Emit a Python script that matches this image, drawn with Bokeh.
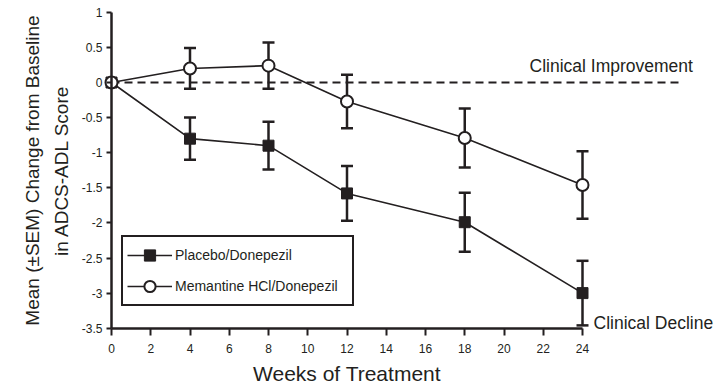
from bokeh.plotting import figure
from bokeh.models import Range1d, FixedTicker, Whisker, TeeHead, ColumnDataSource, Label
from bokeh.embed import file_html
from bokeh.resources import INLINE

weeks = [0, 4, 8, 12, 18, 24]
placebo_mean = [0.0, -0.80, -0.90, -1.58, -1.99, -3.00]
placebo_sem = [0.0, 0.30, 0.34, 0.39, 0.42, 0.46]
memantine_mean = [0.0, 0.20, 0.24, -0.27, -0.79, -1.46]
memantine_sem = [0.0, 0.29, 0.33, 0.38, 0.42, 0.48]

x_ticks = [0, 2, 4, 6, 8, 10, 12, 14, 16, 18, 20, 22, 24]
y_ticks = [1, 0.5, 0, -0.5, -1, -1.5, -2, -2.5, -3, -3.5]
y_tick_labels = ["1", "0.5", "0", "-0.5", "-1", "-1.5", "-2", "-2.5", "-3", "-3.5"]

FONT = "Liberation Sans"
INK = "#231f20"

W, H = 723, 388
PX_X = 19.625   # pixels per week
PX_Y = 70.2     # pixels per score unit
X0_PX, Y0_PX = 111, 82  # where the axes origin (0 weeks, score 0) sits

x_start = -X0_PX / PX_X
x_end = (W - X0_PX) / PX_X
y_end = Y0_PX / PX_Y
y_start = -(H - Y0_PX) / PX_Y

p = figure(width=W, height=H, output_backend="svg", toolbar_location=None,
           x_range=Range1d(x_start, x_end), y_range=Range1d(y_start, y_end),
           min_border_left=0, min_border_right=0, min_border_top=0, min_border_bottom=0)
p.outline_line_color = None
p.xgrid.visible = False
p.ygrid.visible = False

# axes
p.yaxis.fixed_location = 0
p.yaxis.bounds = (-3.5, 1)
p.yaxis.ticker = FixedTicker(ticks=y_ticks)
p.yaxis.major_label_overrides = {t: s for t, s in zip(y_ticks, y_tick_labels)}
p.yaxis.minor_tick_line_color = None
p.yaxis.major_tick_out = 5
p.yaxis.major_tick_in = 0
p.yaxis.major_label_standoff = 4
p.yaxis.axis_label = "Mean (\u00b1SEM) Change from Baseline\nin ADCS-ADL Score"
p.yaxis.axis_label_text_font = FONT
p.yaxis.axis_label_text_font_style = "normal"
p.yaxis.axis_label_text_font_size = "19px"
p.yaxis.axis_label_text_line_height = 1.35
p.yaxis.axis_label_standoff = 7

p.xaxis.fixed_location = -3.5
p.xaxis.bounds = (0, 24)
p.xaxis.ticker = FixedTicker(ticks=x_ticks)
p.xaxis.minor_tick_line_color = None
p.xaxis.major_tick_out = 7
p.xaxis.major_tick_in = 0
p.xaxis.major_label_standoff = 9
p.xaxis.axis_label = "Weeks of Treatment"
p.xaxis.axis_label_text_font = FONT
p.xaxis.axis_label_text_font_style = "normal"
p.xaxis.axis_label_text_font_size = "21px"
p.xaxis.axis_label_standoff = 5

for ax in (p.xaxis, p.yaxis):
    ax.axis_line_width = 2.5
    ax.axis_line_color = INK
    ax.major_tick_line_width = 2
    ax.major_tick_line_color = INK
    ax.major_label_text_font = FONT
    ax.major_label_text_font_size = "12px"
    ax.major_label_text_color = INK
    ax.axis_label_text_color = INK

# reference dashed line at zero
p.line(x=[0, 29], y=[0, 0], line_color=INK, line_width=2, line_dash="8 5")

src_p = ColumnDataSource(dict(x=weeks, y=placebo_mean,
                              lo=[m - s for m, s in zip(placebo_mean, placebo_sem)],
                              hi=[m + s for m, s in zip(placebo_mean, placebo_sem)]))
src_m = ColumnDataSource(dict(x=weeks, y=memantine_mean,
                              lo=[m - s for m, s in zip(memantine_mean, memantine_sem)],
                              hi=[m + s for m, s in zip(memantine_mean, memantine_sem)]))

for src in (src_p, src_m):
    w = Whisker(source=src, base="x", lower="lo", upper="hi", level="underlay",
                line_width=2.5, line_color=INK,
                upper_head=TeeHead(size=12, line_width=2.5, line_color=INK),
                lower_head=TeeHead(size=12, line_width=2.5, line_color=INK))
    p.add_layout(w)

lp = "Placebo/Donepezil"
lm = "Memantine HCl/Donepezil"
p.line("x", "y", source=src_p, line_color=INK, line_width=1.6, legend_label=lp)
p.scatter("x", "y", source=src_p, marker="square", size=11, fill_color=INK,
          line_color=INK, legend_label=lp)
p.line("x", "y", source=src_m, line_color=INK, line_width=1.6, legend_label=lm)
p.scatter("x", "y", source=src_m, marker="circle", size=12, fill_color="white",
          line_color=INK, line_width=2, legend_label=lm)

p.add_layout(Label(x=21.3, y=0.23, text="Clinical Improvement", text_font=FONT,
                   text_font_size="17.5px", text_color=INK, text_baseline="middle"))
p.add_layout(Label(x=24.56, y=-3.43, text="Clinical Decline", text_font=FONT,
                   text_font_size="17.5px", text_color=INK, text_baseline="middle"))

lg = p.legend[0]
lg.location = (121, H - 306)
lg.glyph_width = 45
lg.glyph_height = 28
lg.label_height = 28
lg.label_width = 173
lg.label_standoff = 3
lg.spacing = 3
lg.padding = 4
lg.margin = 0
lg.label_text_font = FONT
lg.label_text_font_size = "14px"
lg.label_text_color = INK
lg.border_line_color = INK
lg.border_line_width = 2
lg.border_line_alpha = 1
lg.background_fill_alpha = 1

open("out.html", "w").write(file_html(p, INLINE))
